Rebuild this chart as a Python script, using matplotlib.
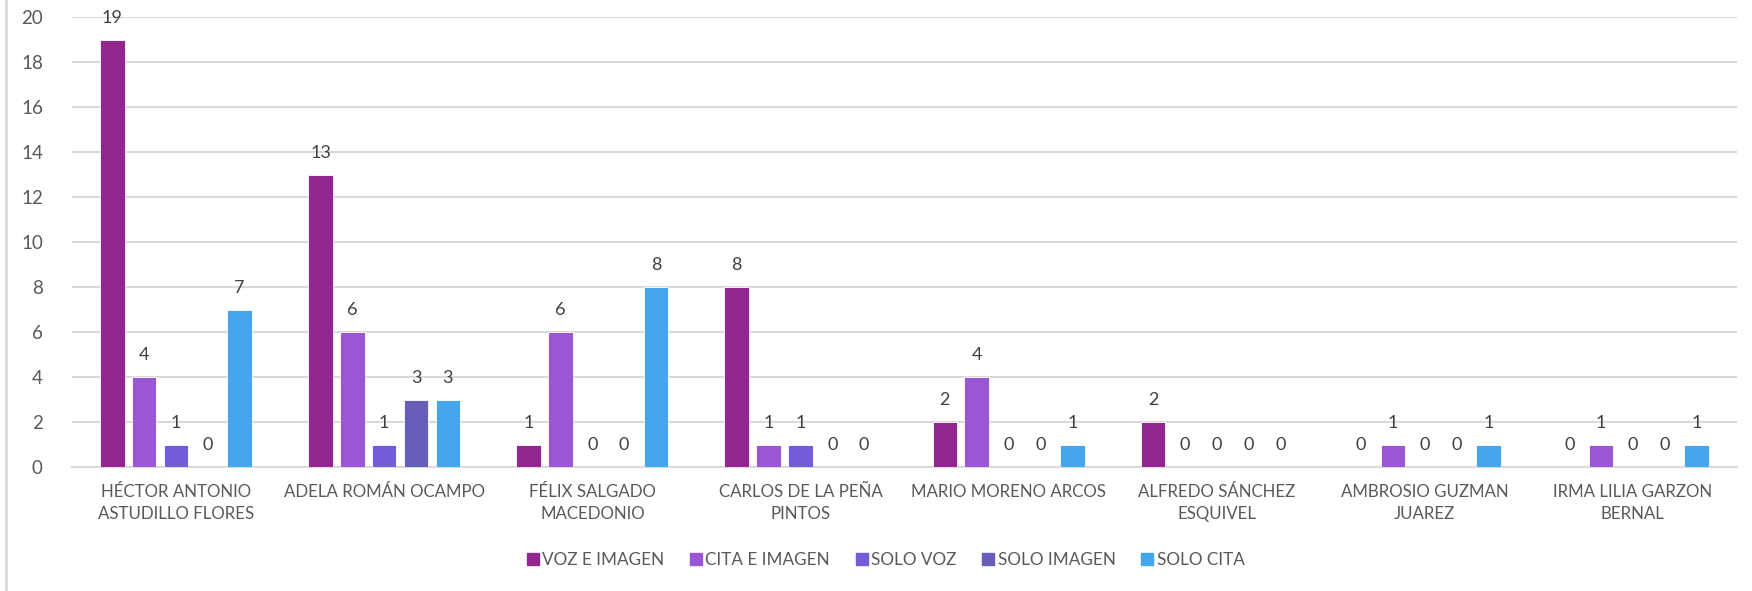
import matplotlib
matplotlib.use("Agg")
import matplotlib.pyplot as plt
from matplotlib.lines import Line2D
import numpy as np

plt.rcParams['font.family'] = ['Lato', 'DejaVu Sans']

categories = [
    "HÉCTOR ANTONIO\nASTUDILLO FLORES",
    "ADELA ROMÁN OCAMPO",
    "FÉLIX SALGADO\nMACEDONIO",
    "CARLOS DE LA PEÑA\nPINTOS",
    "MARIO MORENO ARCOS",
    "ALFREDO SÁNCHEZ\nESQUIVEL",
    "AMBROSIO GUZMAN\nJUAREZ",
    "IRMA LILIA GARZON\nBERNAL",
]
series_names = ["VOZ E IMAGEN", "CITA E IMAGEN", "SOLO VOZ", "SOLO IMAGEN", "SOLO CITA"]
voz_e_imagen = [19, 13, 1, 8, 2, 2, 0, 0]
cita_e_imagen = [4, 6, 6, 1, 4, 0, 1, 1]
solo_voz = [1, 1, 0, 1, 0, 0, 0, 0]
solo_imagen = [0, 3, 0, 0, 0, 0, 0, 0]
solo_cita = [7, 3, 8, 0, 1, 0, 1, 1]
series_values = [voz_e_imagen, cita_e_imagen, solo_voz, solo_imagen, solo_cita]
colors = ["#92278F", "#9B57D3", "#755DD9", "#665EB8", "#45A5ED"]
yticks = [0, 2, 4, 6, 8, 10, 12, 14, 16, 18, 20]

W, H = 1752, 591
fig = plt.figure(figsize=(W / 100, H / 100), dpi=100)
ax = fig.add_axes([72 / W, 1 - 467 / H, (1737 - 72) / W, (467 - 17) / H])

x = np.arange(len(categories))
pitch = 0.153
bw = 0.118
for i, (name, vals, c) in enumerate(zip(series_names, series_values, colors)):
    pos = x + (i - 2) * pitch
    ax.bar(pos, vals, width=bw, color=c, edgecolor="white", linewidth=0.6,
           label=name, zorder=3)
    for xp, v in zip(pos, vals):
        ax.annotate(str(v), (xp, v), xytext=(0, 15.5), textcoords="offset points",
                    ha="center", va="center", fontsize=13, color="#404040")

ax.set_xlim(-0.5, len(categories) - 0.5)
ax.set_ylim(0, 20)
ax.set_yticks(yticks)
ax.yaxis.grid(True, color="#D9D9D9", linewidth=1.5, zorder=0)
ax.set_axisbelow(True)
for s in ["top", "right", "left"]:
    ax.spines[s].set_visible(False)
ax.spines["bottom"].set_color("#D9D9D9")
ax.spines["bottom"].set_linewidth(1.5)
ax.tick_params(axis="y", length=0, colors="#595959", labelsize=13.5, pad=21)
ax.tick_params(axis="x", length=0, colors="#595959", pad=12)
ax.set_xticks(x)
ax.set_xticklabels(categories, fontsize=12.2, color="#595959", linespacing=1.45)

handles = [Line2D([0], [0], marker="s", linestyle="none", markersize=9,
                  markerfacecolor=c, markeredgecolor=c) for c in colors]
fig.legend(handles, series_names, loc="center", bbox_to_anchor=(886 / W, 1 - 560 / H),
           ncol=5, frameon=False, fontsize=12.3, labelcolor="#595959",
           handlelength=0.6, handletextpad=0.25, columnspacing=1.55)

# chart frame edge on the left
fig.add_artist(Line2D([6 / W, 6 / W], [0, 1], color="#D9D9D9", linewidth=2,
                      transform=fig.transFigure))

fig.savefig("out.png", dpi=100, facecolor="white")
